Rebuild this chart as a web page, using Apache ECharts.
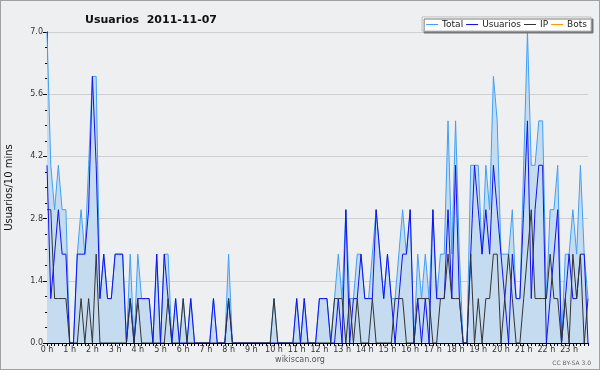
<!DOCTYPE html>
<html><head><meta charset="utf-8">
<script src="https://cdn.jsdelivr.net/npm/echarts@6/dist/echarts.min.js"></script>
<style>html,body{margin:0;padding:0;background:#eeeff1}
#c{width:600px;height:370px;box-sizing:border-box;border:1px solid #a0a0a0;background:#eeeff1}</style>
</head><body><div id="c"></div>
<script>
var hourLabels = ['0 h','1 h','2 h','3 h','4 h','5 h','6 h','7 h','8 h','9 h','10 h','11 h','12 h','13 h','14 h','15 h','16 h','17 h','18 h','19 h','20 h','21 h','22 h','23 h'];
var yTicks = [0, 1.4, 2.8, 4.2, 5.6, 7.0];
// 10-minute slots, 6 per hour
var total = [
 7,4,3,4,3,3,  0,0,2,3,2,4,  6,6,1,2,1,1,  2,2,2,0,2,0,
 2,1,1,1,0,2,  0,2,2,0,1,0,  1,0,1,0,0,0,  0,0,1,0,0,0,
 2,0,0,0,0,0,  0,0,0,0,0,0,  1,0,0,0,0,0,  1,0,1,0,0,0,
 1,1,1,0,1,2,  1,3,1,1,2,2,  1,1,2,3,2,1,  2,1,1,2,3,2,
 3,0,2,1,2,1,  3,1,2,2,5,2,  5,2,0,0,4,4,  4,2,4,3,6,5,
 2,2,2,3,1,1,  4,7,4,4,5,5,  1,3,3,4,0,2,  2,3,2,4,2,1
];
var usuarios = [
 4,1,2,3,2,2,  0,0,2,2,2,3,  6,4,1,2,1,1,  2,2,2,0,1,0,
 1,1,1,1,0,2,  0,2,1,0,1,0,  0,0,1,0,0,0,  0,0,1,0,0,0,
 1,0,0,0,0,0,  0,0,0,0,0,0,  0,0,0,0,0,0,  1,0,1,0,0,0,
 1,1,1,0,0,1,  0,3,0,1,1,2,  1,1,1,3,2,1,  2,1,0,1,2,2,
 3,0,1,0,1,0,  3,1,1,1,3,1,  4,1,0,0,2,4,  3,2,3,2,4,3,
 2,1,0,2,1,1,  3,5,1,3,4,4,  0,1,2,3,0,1,  2,1,1,2,2,0
];
var ip = [
 3,3,1,1,1,1,  0,0,0,1,0,1,  0,2,0,0,0,0,  0,0,0,0,1,0,
 1,0,0,0,0,0,  0,0,1,0,0,0,  1,0,0,0,0,0,  0,0,0,0,0,0,
 1,0,0,0,0,0,  0,0,0,0,0,0,  1,0,0,0,0,0,  0,0,0,0,0,0,
 0,0,0,0,1,1,  1,0,1,0,1,0,  0,0,1,0,0,0,  0,0,1,1,1,0,
 0,0,1,1,1,1,  0,0,1,1,2,1,  1,1,0,0,2,0,  1,0,1,1,2,2,
 0,1,2,1,0,0,  1,2,3,1,1,1,  1,2,1,1,0,1,  0,2,1,2,0,1
];
var bots = [
 0,0,0,0,0,0, 0,0,0,0,0,0, 0,0,0,0,0,0, 0,0,0,0,0,0,
 0,0,0,0,0,0, 0,0,0,0,0,0, 0,0,0,0,0,0, 0,0,0,0,0,0,
 0,0,0,0,0,0, 0,0,0,0,0,0, 0,0,0,0,0,0, 0,0,0,0,0,0,
 0,0,0,0,0,0, 0,0,0,0,0,0, 0,0,0,0,0,0, 0,0,0,0,0,0,
 0,0,0,0,0,0, 0,0,0,0,0,0, 0,0,0,0,0,0, 0,0,0,0,0,0,
 0,0,0,0,0,0, 0,0,0,0,0,0, 0,0,0,0,0,0, 0,0,0,0,0,0
];
var cats = [];
for (var h = 0; h < hourLabels.length; h++) { for (var m = 0; m < 6; m++) cats.push(m === 0 ? hourLabels[h] : ''); }

var FONT = 'DejaVu Sans';
var chart = echarts.init(document.getElementById('c'), null, {renderer: 'canvas'});
chart.setOption({
  backgroundColor: '#eeeff1',
  animation: false,
  title: {
    text: 'Usuarios  2011-11-07', left: 145, top: 9, textAlign: 'center',
    textStyle: {fontFamily: FONT, fontSize: 11, fontWeight: 'bold', color: '#111'}
  },
  legend: {
    data: ['Total','Usuarios','IP','Bots'], right: 8, top: 16, itemGap: 3,
    itemWidth: 12, itemHeight: 1, icon: 'rect', padding: [3, 4, 2, 4],
    backgroundColor: '#ffffff', borderColor: '#bbbbbb', borderWidth: 1,
    shadowColor: '#777777', shadowOffsetX: 2, shadowOffsetY: 2, shadowBlur: 0,
    textStyle: {fontFamily: FONT, fontSize: 9, color: '#222', padding: [0,0,0,-1]}
  },
  grid: {left: 46, right: 11, top: 31, bottom: 26, outerBoundsMode: 'none', containLabel: false},
  xAxis: {
    type: 'category', data: cats, boundaryGap: false, z: 5,
    axisLine: {lineStyle: {color: '#000', width: 1}},
    axisTick: {interval: 0, length: 3, lineStyle: {color: '#000'}},
    axisLabel: {interval: 0, fontFamily: FONT, fontSize: 8, color: '#333', margin: 3},
    splitLine: {show: false}
  },
  yAxis: {
    type: 'value', min: yTicks[0], max: yTicks[yTicks.length-1], interval: 1.4,
    name: 'Usuarios/10 mins', nameLocation: 'middle', nameGap: 33, nameRotate: 90,
    nameTextStyle: {fontFamily: FONT, fontSize: 10, color: '#111'},
    axisLine: {show: true, lineStyle: {color: '#000'}},
    axisTick: {show: true, length: 4, lineStyle: {color: '#000'}},
    minorTick: {show: true, splitNumber: 4, length: 2, lineStyle: {color: '#000'}},
    axisLabel: {fontFamily: FONT, fontSize: 8, color: '#333', margin: 4,
      formatter: function (v) { return v.toFixed(1); }},
    splitLine: {show: true, lineStyle: {color: '#cfcfcf', width: 1}}
  },
  graphic: [
    {type: 'text', left: 'center', top: 355, style: {text: 'wikiscan.org', font: '8px DejaVu Sans', fill: '#555'}},
    {type: 'text', right: 8, top: 359, style: {text: 'CC BY-SA 3.0', font: '6px DejaVu Sans', fill: '#666'}}
  ],
  series: [
    {name: 'Bots', type: 'line', data: bots, symbol: 'none', z: 1, lineStyle: {color: '#ff9900', width: 1}, itemStyle: {color: '#ff9900'}},
    {name: 'Total', type: 'line', data: total, symbol: 'none', lineStyle: {color: '#3fa0f5', width: 1}, itemStyle: {color: '#3fa0f5'},
      areaStyle: {color: '#c5dcf0', opacity: 1}},
    {name: 'Usuarios', type: 'line', data: usuarios, symbol: 'none', lineStyle: {color: '#1010f0', width: 1}, itemStyle: {color: '#1010f0'}},
    {name: 'IP', type: 'line', data: ip, symbol: 'none', lineStyle: {color: '#333333', width: 1}, itemStyle: {color: '#333333'}}
  ]
});
</script></body></html>
